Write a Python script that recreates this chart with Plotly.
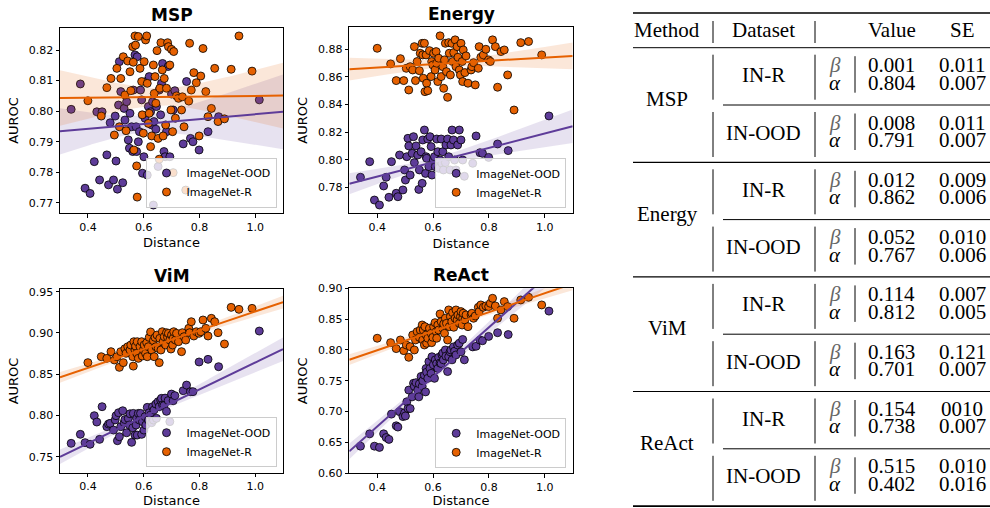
import numpy as np
import plotly.graph_objects as go

# ---------------- data ----------------
dist_ood = [0.340, 0.373, 0.390, 0.408, 0.423, 0.432, 0.442, 0.451, 0.468, 0.474,
            0.480, 0.492, 0.498, 0.501, 0.506, 0.510, 0.513, 0.518, 0.525, 0.530,
            0.533, 0.539, 0.545, 0.549, 0.551, 0.557, 0.561, 0.563, 0.569, 0.573,
            0.575, 0.577, 0.581, 0.585, 0.589, 0.593, 0.596, 0.601, 0.605, 0.608,
            0.613, 0.617, 0.620, 0.625, 0.629, 0.632, 0.635, 0.637, 0.644, 0.646,
            0.652, 0.656, 0.661, 0.664, 0.668, 0.673, 0.677, 0.682, 0.688, 0.694,
            0.700, 0.706, 0.712, 0.742, 0.754, 0.768, 0.777, 0.799, 0.831, 0.869, 1.015]

dist_r = [0.400, 0.448, 0.468, 0.483, 0.495, 0.504, 0.513, 0.518, 0.527, 0.533,
          0.537, 0.543, 0.551, 0.554, 0.561, 0.563, 0.565, 0.569, 0.571, 0.575,
          0.577, 0.581, 0.587, 0.593, 0.595, 0.599, 0.602, 0.607, 0.611, 0.613,
          0.617, 0.620, 0.625, 0.629, 0.635, 0.638, 0.641, 0.644, 0.648, 0.652,
          0.656, 0.658, 0.662, 0.667, 0.670, 0.674, 0.679, 0.682, 0.686, 0.689,
          0.694, 0.698, 0.700, 0.704, 0.706, 0.708, 0.714, 0.718, 0.725, 0.736,
          0.739, 0.745, 0.751, 0.762, 0.765, 0.771, 0.780, 0.789, 0.799, 0.805,
          0.813, 0.823, 0.831, 0.843, 0.855, 0.867, 0.890, 0.914, 0.942, 0.989]

msp_ood = [0.8006, 0.8089, 0.7748, 0.7731, 0.7835, 0.7998, 0.7775, 0.7998, 0.7857, 0.7759,
           0.7962, 0.7775, 0.7984, 0.7837, 0.7745, 0.8020, 0.8162, 0.8064, 0.7766, 0.8009,
           0.7971, 0.8031, 0.7906, 0.7879, 0.7993, 0.7949, 0.7868, 0.8069, 0.8184, 0.7949,
           0.7868, 0.8178, 0.7900, 0.7933, 0.8069, 0.8037, 0.7797, 0.7851, 0.7977, 0.8097,
           0.7791, 0.8015, 0.8113, 0.7998, 0.7955, 0.8031, 0.7693, 0.7966, 0.7941, 0.8015,
           0.7819, 0.8069, 0.7988, 0.8091, 0.8156, 0.7868, 0.7851, 0.7933, 0.8146, 0.7851,
           0.8056, 0.8004, 0.8067, 0.7893, 0.8097, 0.7911, 0.7900, 0.7873, 0.7933, 0.7982, 0.8037]

msp_r = [0.8034, 0.7984, 0.8077, 0.8107, 0.7922, 0.8140, 0.7949, 0.8107, 0.8178, 0.8053,
         0.7936, 0.8164, 0.8129, 0.8067, 0.8211, 0.8160, 0.7873, 0.8246, 0.8216, 0.7821,
         0.7719, 0.8244, 0.8140, 0.8097, 0.7988, 0.7928, 0.8162, 0.8233, 0.8246, 0.8091,
         0.7960, 0.7993, 0.7884, 0.7919, 0.8151, 0.8058, 0.8113, 0.8026, 0.8198, 0.7911,
         0.7843, 0.8075, 0.8224, 0.8135, 0.7919, 0.8107, 0.7955, 0.8075, 0.8224, 0.8211,
         0.8151, 0.8004, 0.8202, 0.7933, 0.7799, 0.8195, 0.7977, 0.8050, 0.8042, 0.8004,
         0.8047, 0.7949, 0.7742, 0.8033, 0.8222, 0.8069, 0.8126, 0.8093, 0.7919, 0.8115,
         0.8205, 0.8064, 0.7982, 0.8009, 0.8140, 0.7966, 0.7975, 0.8137, 0.8246, 0.8131]

energy_ood = [0.7873, 0.7986, 0.7708, 0.7672, 0.7810, 0.7873, 0.7728, 0.7986, 0.7757, 0.7732,
              0.8034, 0.7781, 0.7926, 0.7853, 0.8022, 0.8155, 0.8100, 0.7889, 0.8046, 0.8167,
              0.7979, 0.8100, 0.8034, 0.7785, 0.7926, 0.8058, 0.7829, 0.8143, 0.8215, 0.7901,
              0.8022, 0.8010, 0.8150, 0.7950, 0.8167, 0.8095, 0.7889, 0.7998, 0.8022, 0.7950,
              0.8150, 0.8058, 0.7938, 0.7998, 0.8150, 0.7974, 0.8058, 0.7926, 0.7979, 0.8107,
              0.8150, 0.8022, 0.7926, 0.8107, 0.8215, 0.8143, 0.7998, 0.7926, 0.8107, 0.8215,
              0.8143, 0.7998, 0.7880, 0.7974, 0.8172, 0.8051, 0.8046, 0.8017, 0.8114, 0.8066, 0.8317]

energy_r = [0.8807, 0.8694, 0.8573, 0.8732, 0.8573, 0.8662, 0.8505, 0.8674, 0.8650, 0.8819,
            0.8573, 0.8711, 0.8645, 0.8771, 0.8843, 0.8759, 0.8590, 0.8843, 0.8493, 0.8759,
            0.8554, 0.8500, 0.8790, 0.8602, 0.8711, 0.8686, 0.8771, 0.8650, 0.8783, 0.8699,
            0.8566, 0.8735, 0.8897, 0.8602, 0.8674, 0.8517, 0.8723, 0.8843, 0.8638, 0.8452,
            0.8848, 0.8771, 0.8614, 0.8843, 0.8711, 0.8776, 0.8868, 0.8674, 0.8819, 0.8742,
            0.8650, 0.8614, 0.8843, 0.8711, 0.8566, 0.8795, 0.8631, 0.8752, 0.8554, 0.8650,
            0.8674, 0.8703, 0.8542, 0.8662, 0.8819, 0.8742, 0.8759, 0.8800, 0.8723, 0.8711,
            0.8868, 0.8819, 0.8525, 0.8783, 0.8795, 0.8614, 0.8360, 0.8848, 0.8856, 0.8759]

vim_ood = [0.7662, 0.7771, 0.7670, 0.7650, 0.7997, 0.7920, 0.7710, 0.8106, 0.7864, 0.7896,
           0.7904, 0.7823, 0.7946, 0.7997, 0.7694, 0.8033, 0.7742, 0.7864, 0.8057, 0.7912,
           0.7950, 0.7790, 0.7965, 0.7884, 0.8020, 0.7674, 0.7850, 0.8025, 0.7762, 0.7884,
           0.7965, 0.7762, 0.8025, 0.7944, 0.8025, 0.7771, 0.7925, 0.7823, 0.7985, 0.7884,
           0.8098, 0.7944, 0.8033, 0.8005, 0.7912, 0.8106, 0.7944, 0.8065, 0.8138, 0.7965,
           0.8167, 0.8106, 0.8187, 0.8207, 0.8126, 0.8120, 0.8210, 0.8050, 0.8180, 0.7925,
           0.8259, 0.8178, 0.8240, 0.8300, 0.8368, 0.8288, 0.8288, 0.8648, 0.8680, 0.8591, 0.9023]

vim_r = [0.8640, 0.8712, 0.8692, 0.8773, 0.8672, 0.8712, 0.8583, 0.8773, 0.8640, 0.8809,
         0.8753, 0.8833, 0.8793, 0.8854, 0.8712, 0.8598, 0.8894, 0.8793, 0.8841, 0.8753,
         0.8894, 0.8692, 0.8833, 0.8894, 0.8720, 0.8793, 0.8854, 0.8753, 0.8882, 0.8712,
         0.8833, 0.8946, 0.9012, 0.8793, 0.8906, 0.8712, 0.8946, 0.8833, 0.8975, 0.8813,
         0.8640, 0.8934, 0.8793, 0.9015, 0.8894, 0.8955, 0.8854, 0.9003, 0.8946, 0.8995,
         0.8914, 0.8805, 0.8975, 0.8854, 0.8934, 0.9015, 0.8914, 0.8995, 0.8894, 0.8773,
         0.9003, 0.8955, 0.8914, 0.9056, 0.9003, 0.9136, 0.8963, 0.9015, 0.8995, 0.9015,
         0.9157, 0.9056, 0.8963, 0.9177, 0.9136, 0.9003, 0.8866, 0.9310, 0.9286, 0.9298]

react_ood = [0.644, 0.664, 0.644, 0.642, 0.664, 0.658, 0.655, 0.696, 0.677, 0.675,
             0.700, 0.692, 0.698, 0.693, 0.716, 0.705, 0.735, 0.705, 0.724, 0.746,
             0.741, 0.747, 0.735, 0.724, 0.745, 0.757, 0.741, 0.750, 0.759, 0.732,
             0.770, 0.764, 0.754, 0.781, 0.770, 0.762, 0.789, 0.776, 0.754, 0.784,
             0.778, 0.770, 0.788, 0.779, 0.778, 0.792, 0.795, 0.784, 0.800, 0.790,
             0.765, 0.789, 0.797, 0.800, 0.784, 0.805, 0.798, 0.792, 0.808, 0.811,
             0.797, 0.817, 0.784, 0.805, 0.806, 0.816, 0.815, 0.822, 0.828, 0.825, 0.863]

react_r = [0.8190, 0.8119, 0.8022, 0.8162, 0.7989, 0.8081, 0.7881, 0.8054, 0.8243, 0.8000,
           0.8162, 0.8297, 0.8205, 0.8324, 0.8405, 0.8162, 0.8324, 0.8081, 0.8378, 0.8243,
           0.8108, 0.8190, 0.8351, 0.8270, 0.8119, 0.8205, 0.8378, 0.8443, 0.8297, 0.8190,
           0.8405, 0.8324, 0.8584, 0.8459, 0.8351, 0.8422, 0.8270, 0.8514, 0.8432, 0.8162,
           0.8649, 0.8378, 0.8541, 0.8459, 0.8605, 0.8368, 0.8514, 0.8649, 0.8486, 0.8568,
           0.8432, 0.8541, 0.8622, 0.8405, 0.8514, 0.8595, 0.8486, 0.8568, 0.8378, 0.8568,
           0.8595, 0.8514, 0.8551, 0.8692, 0.8622, 0.8730, 0.8692, 0.8714, 0.8703, 0.8757,
           0.8838, 0.8714, 0.8514, 0.8649, 0.8784, 0.8703, 0.8514, 0.8811, 0.8854, 0.8730]

# fitted regression lines (intercept, slope) as drawn in the chart, per method
fit_alpha_ood = [0.791, 0.767, 0.701, 0.515]
fit_beta_ood = [0.008, 0.052, 0.163, 0.402]
fit_alpha_r = [0.804, 0.862, 0.812, 0.738]
fit_beta_r = [0.001, 0.012, 0.114, 0.154]

method_names = ["MSP", "Energy", "ViM", "ReAct"]
series_names = ["ImageNet-OOD", "ImageNet-R"]
x_ticks = [0.4, 0.6, 0.8, 1.0]

table_methods = ["MSP", "Energy", "ViM", "ReAct"]
table_datasets = ["IN-R", "IN-OOD"]
table_beta = ["0.001", "0.008", "0.012", "0.052", "0.114", "0.163", "0.154", "0.515"]
table_beta_se = ["0.011", "0.011", "0.009", "0.010", "0.007", "0.121", "0010", "0.010"]
table_alpha = ["0.804", "0.791", "0.862", "0.767", "0.812", "0.701", "0.738", "0.402"]
table_alpha_se = ["0.007", "0.007", "0.006", "0.006", "0.005", "0.007", "0.007", "0.016"]

# ---------------- helpers ----------------
W, H = 990, 508
def X(px): return px / W
def Y(py): return 1 - py / H

PURPLE = "#5e3c99"
ORANGE = "#e66101"
BAND = {PURPLE: "rgba(94,60,153,0.15)", ORANGE: "rgba(230,97,1,0.15)"}
SANS = "DejaVu Sans"
SERIF = "Liberation Serif"

def regression_band(x, y, a, b, grid):
    x = np.asarray(x, float); y = np.asarray(y, float)
    n = len(x)
    resid = y - (a + b * x)
    s = np.sqrt(np.sum(resid ** 2) / (n - 2))
    sxx = np.sum((x - x.mean()) ** 2)
    se = s * np.sqrt(1.0 / n + (grid - x.mean()) ** 2 / sxx)
    fit = a + b * grid
    return fit, fit - 1.99 * se, fit + 1.99 * se

panels = [
    dict(ood=msp_ood, r=msp_r, xd=(60, 283), yd=(28, 213), yr=[0.7667, 0.8272], t0=0.77, dt=0.01),
    dict(ood=energy_ood, r=energy_r, xd=(349.3, 572.7), yd=(27.3, 213.3), yr=[0.7612, 0.8959], t0=0.78, dt=0.02),
    dict(ood=vim_ood, r=vim_r, xd=(60, 283), yd=(289.3, 472.7), yr=[0.7306, 0.9529], t0=0.75, dt=0.05),
    dict(ood=react_ood, r=react_r, xd=(349.3, 572.7), yd=(288.3, 473.3), yr=[0.60, 0.90], t0=0.60, dt=0.05),
]

fig = go.Figure()
grid = np.linspace(0.3, 1.1, 120)
annotations = []
layout_axes = {}

for i, p in enumerate(panels):
    sfx = "" if i == 0 else str(i + 1)
    xa, ya = "x" + sfx, "y" + sfx
    leg = "legend" + sfx
    groups = [(dist_ood, p["ood"], PURPLE, series_names[0], fit_alpha_ood[i], fit_beta_ood[i]),
              (dist_r, p["r"], ORANGE, series_names[1], fit_alpha_r[i], fit_beta_r[i])]
    lines = []
    for xs, ys, col, nm, a, b in groups:
        fig.add_trace(go.Scatter(
            x=xs, y=ys, mode="markers", name=nm, xaxis=xa, yaxis=ya, legend=leg,
            marker=dict(size=8, color=col, line=dict(color="black", width=0.8)),
            showlegend=True))
        fit, lo, hi = regression_band(xs, ys, a, b, grid)
        fig.add_trace(go.Scatter(
            x=np.concatenate([grid, grid[::-1]]), y=np.concatenate([hi, lo[::-1]]),
            mode="lines", fill="toself", fillcolor=BAND[col], line=dict(width=0),
            xaxis=xa, yaxis=ya, showlegend=False, hoverinfo="skip"))
        lines.append((fit, col))
    for fit, col in lines:
        fig.add_trace(go.Scatter(
            x=grid, y=fit, mode="lines", line=dict(color=col, width=2),
            xaxis=xa, yaxis=ya, showlegend=False, hoverinfo="skip"))

    common = dict(showline=True, mirror=True, linecolor="black", linewidth=1,
                  ticks="outside", ticklen=3.5, tickwidth=0.8, tickcolor="black",
                  showgrid=False, zeroline=False, automargin=False,
                  tickfont=dict(family=SANS, size=11, color="black"))
    layout_axes["xaxis" + sfx] = dict(
        common, domain=[X(p["xd"][0]), X(p["xd"][1])], range=[0.3, 1.1],
        anchor=ya, tickvals=x_ticks, tickformat=".1f",
        title=dict(text="Distance", font=dict(family=SANS, size=13, color="black"), standoff=5))
    layout_axes["yaxis" + sfx] = dict(
        common, domain=[Y(p["yd"][1]), Y(p["yd"][0])], range=p["yr"],
        anchor=xa, tickmode="linear", tick0=p["t0"], dtick=p["dt"], tickformat=".2f",
        title=dict(text="AUROC", font=dict(family=SANS, size=13, color="black"), standoff=7))
    layout_axes[leg] = dict(
        x=X(p["xd"][1] - 6.5), y=Y(p["yd"][1] - 5.5), xanchor="right", yanchor="bottom",
        bgcolor="rgba(255,255,255,0.8)", bordercolor="#cccccc", borderwidth=1,
        font=dict(family=SANS, size=11, color="black"), tracegroupgap=0, itemwidth=30)
    cx = (p["xd"][0] + p["xd"][1]) / 2
    annotations.append(dict(
        x=X(cx), y=Y(p["yd"][0] - 13), xref="paper", yref="paper", showarrow=False,
        text="<b>%s</b>" % method_names[i], font=dict(family=SANS, size=17, color="black"),
        xanchor="center", yanchor="middle"))

# ---------------- table ----------------
shapes = []
def hline(y, x0, x1, w):
    shapes.append(dict(type="line", xref="paper", yref="paper", x0=X(x0), x1=X(x1),
                       y0=Y(y), y1=Y(y), line=dict(color="black", width=w)))
def vline(x, y0, y1):
    shapes.append(dict(type="line", xref="paper", yref="paper", x0=X(x), x1=X(x),
                       y0=Y(y0), y1=Y(y1), line=dict(color="black", width=1)))
def text(x, y, s, color="black", italic=False):
    f = dict(family=SERIF, size=21, color=color)
    if italic:
        f["style"] = "italic"
    annotations.append(dict(x=X(x), y=Y(y), xref="paper", yref="paper", showarrow=False,
                            text=s, font=f, xanchor="center", yanchor="middle"))

TL, TR = 633, 990
C_METHOD, C_DATA, C_SYM, C_VAL, C_SE = 667, 763.5, 835, 891.5, 962
B1, B2, B3 = 713, 815, 855

hline(13, TL, TR, 1.6)
text(C_METHOD, 30, "Method"); text(C_DATA, 30, "Dataset")
text(C_VAL, 30, "Value"); text(C_SE, 30, "SE")
vline(B1, 21, 43); vline(B2, 21, 43)
header_bottom = 47.7
hline(header_bottom, TL, TR, 1)
block_h = 114.6
sub_h = block_h / 2
for m, meth in enumerate(table_methods):
    top = header_bottom + m * block_h
    text(C_METHOD, top + sub_h - 6, meth)
    for d, ds in enumerate(table_datasets):
        k = 2 * m + d
        s = top + d * sub_h
        yb, yalpha = s + 17.5, s + 35
        text(C_DATA, s + 27.5, ds)
        vline(B1, s + 7, s + 52)
        vline(B2, s + 7, s + 52)
        vline(B3, yb - 9, yalpha + 10)
        text(C_SYM, yb, "β", color="#666666", italic=True)
        text(C_SYM, yalpha, "α", italic=True)
        text(C_VAL, yb, table_beta[k]); text(C_SE, yb, table_beta_se[k])
        text(C_VAL, yalpha, table_alpha[k]); text(C_SE, yalpha, table_alpha_se[k])
        if d == 0:
            hline(s + sub_h, 723, TR, 1)
    if m < 3:
        hline(top + block_h, TL, TR, 1.2)
hline(header_bottom + 4 * block_h, TL, TR, 1.6)

fig.update_layout(
    width=W, height=H, margin=dict(l=0, r=0, t=0, b=0),
    paper_bgcolor="white", plot_bgcolor="white",
    annotations=annotations, shapes=shapes, **layout_axes)

fig.write_html("out.html")
